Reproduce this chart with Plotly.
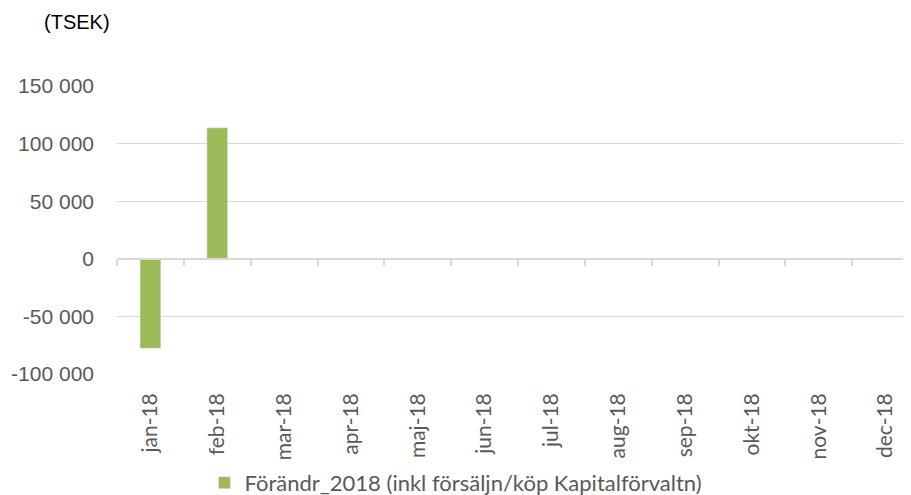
import plotly.graph_objects as go

months = ["jan-18", "feb-18", "mar-18", "apr-18", "maj-18", "jun-18",
          "jul-18", "aug-18", "sep-18", "okt-18", "nov-18", "dec-18"]
values = [-77600, 113700, None, None, None, None, None, None, None, None, None, None]
series_name = "Förändr_2018 (inkl försäljn/köp Kapitalförvaltn)"
y_tickvals = [-100000, -50000, 0, 50000, 100000, 150000]
y_ticktext = ["-100 000", "-50 000", "0", "50 000", "100 000", "150 000"]

GREEN = "#9bbb59"
GRID = "#d9d9d9"
TXT = "#595959"

fig = go.Figure()
fig.add_trace(go.Bar(x=months, y=values, name=series_name, marker_color=GREEN,
                     width=0.31, hoverinfo="x+y"))
fig.add_trace(go.Scatter(x=months, y=[None] * len(months), xaxis="x2", mode="markers",
                         showlegend=False, hoverinfo="skip"))

fig.update_layout(
    width=911, height=495,
    margin=dict(l=109, r=0, t=78, b=129, autoexpand=False),
    plot_bgcolor="white", paper_bgcolor="white",
    showlegend=True,
    legend=dict(orientation="h", x=0.109, xanchor="left", y=-0.378, yanchor="middle",
                font=dict(family="Lato", size=22, color=TXT),
                itemwidth=30, traceorder="normal"),
    xaxis=dict(type="category", categoryorder="array", categoryarray=months,
               range=[-0.5, 11.5], showline=False, ticks="", showgrid=False,
               automargin=False,
               tickangle=-90, tickfont=dict(family="Lato", size=21, color=TXT),
               ticklabelstandoff=14),
    xaxis2=dict(type="category", categoryorder="array", categoryarray=months,
                overlaying="x", anchor="free", position=0.4, side="bottom",
                range=[-0.5, 11.5], showticklabels=False, showgrid=False,
                showline=True, linecolor=GRID, linewidth=1.5,
                ticks="outside", tickson="boundaries", ticklen=6, tickwidth=1.5,
                tickcolor=GRID),
    yaxis=dict(range=[-100000, 150000], tickvals=y_tickvals, ticktext=y_ticktext,
               showgrid=True, gridcolor=GRID, gridwidth=1, zeroline=False,
               showline=False, ticks="", automargin=False,
               tickfont=dict(family="Liberation Sans, Arial", size=21, color=TXT),
               ticklabelstandoff=22),
    annotations=[dict(text="(TSEK)", xref="paper", yref="paper", x=-0.0935, y=1.222,
                      xanchor="left", yanchor="middle", showarrow=False,
                      font=dict(family="Liberation Sans, Arial", size=20, color="black"))],
)

fig.write_html("out.html")
